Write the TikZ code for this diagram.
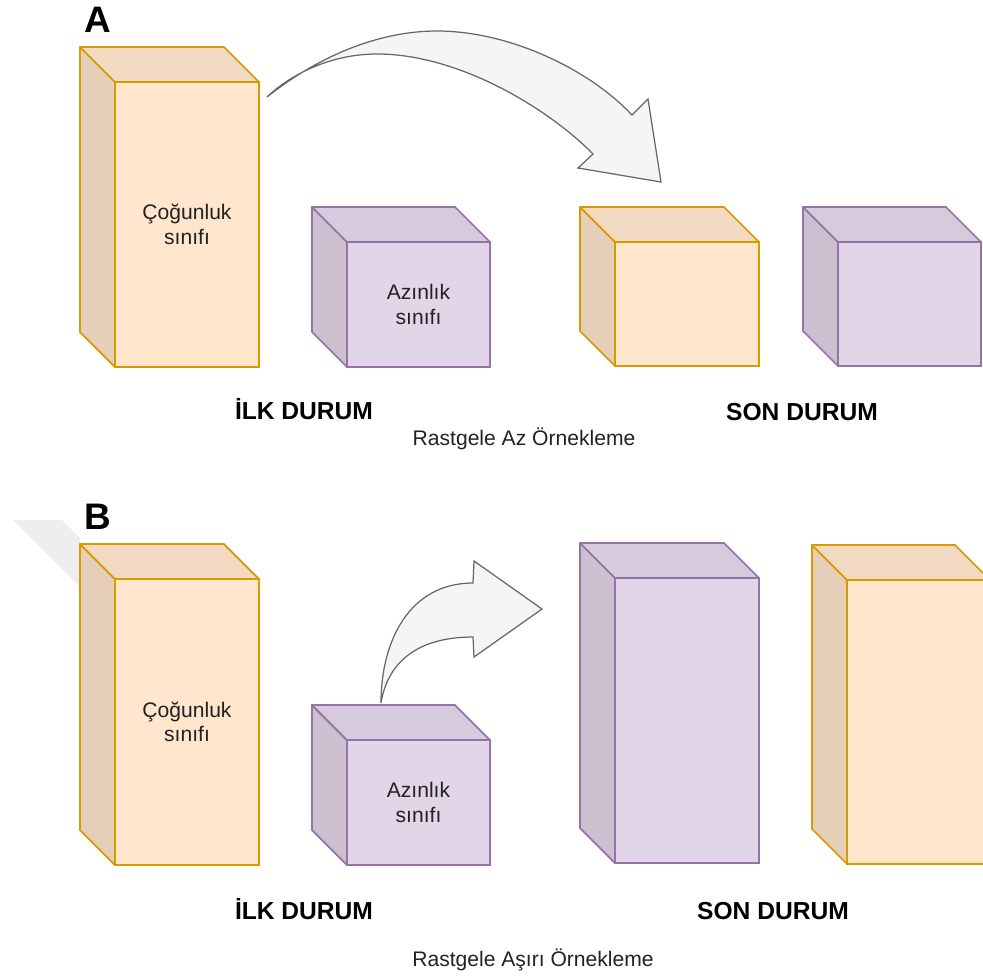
\documentclass[tikz,border=0pt]{standalone}
\usepackage{fontspec}
\setmainfont{Liberation Sans}
\usetikzlibrary{calc}

\definecolor{orangefill}{HTML}{FFE6CC}
\definecolor{orangetop}{HTML}{F2DAC2}
\definecolor{orangeside}{HTML}{E6CFB8}
\definecolor{orangeline}{HTML}{D79B00}
\definecolor{purplefill}{HTML}{E1D5E7}
\definecolor{purpletop}{HTML}{D6CADC}
\definecolor{purpleside}{HTML}{CBBFD0}
\definecolor{purpleline}{HTML}{9673A6}
\definecolor{arrowfill}{HTML}{F5F5F5}
\definecolor{arrowline}{HTML}{666666}
\definecolor{textgray}{HTML}{222222}

\tikzset{
  face/.style={fill=#1fill, draw=#1line, line width=1pt, outer sep=0pt,
    inner sep=0pt, align=center, text=textgray,
    font=\fontsize{12pt}{14pt}\selectfont},
  backface/.style={draw=#1line, line width=1pt, line join=round},
  blockarrow/.style={fill=arrowfill, draw=arrowline, line width=0.7pt, line join=miter},
  heading/.style={anchor=base, font=\fontsize{14pt}{16pt}\selectfont\bfseries},
  caption/.style={anchor=base, text=textgray, font=\fontsize{12pt}{14pt}\selectfont},
  panel/.style={anchor=base, font=\fontsize{21pt}{24pt}\selectfont\bfseries},
}

% cube: name, front face x0,y0,x1,y1 (pixel units), colour family, text
\newcommand{\drawcube}[7]{%
  \node[face=#6, anchor=north west,
        minimum width={(#4-#2)*0.02cm}, minimum height={(#5-#3)*0.02cm}]
        (#1) at (#2,#3) {#7};
  \filldraw[backface=#6, fill=#6side]
    (#1.north west) -- (#1.south west) -- ++(-35,-35)
    -- ($(#1.north west)+(-35,-35)$) -- cycle;
  \filldraw[backface=#6, fill=#6top]
    (#1.north west) -- (#1.north east) -- ++(-35,-35)
    -- ($(#1.north west)+(-35,-35)$) -- cycle;
}

\begin{document}
\begin{tikzpicture}[x=0.02cm, y=-0.02cm]
\useasboundingbox (0,0) rectangle (983,978);
\clip (0,0) rectangle (983,978);

% ---------------- Panel A: random undersampling ----------------
\node[panel] (labA) at (98,32) {A};

\drawcube{majA}{115}{82}{259}{367}{orange}{Çoğunluk\\sınıfı}
\drawcube{minA}{347}{242}{490}{367}{purple}{Azınlık\\sınıfı}
\drawcube{majAout}{615}{242}{759}{366}{orange}{}
\drawcube{minAout}{838}{242}{981}{366}{purple}{}

% curved block arrow from the initial to the final state
\coordinate (arrAtail) at (267,97);
\coordinate (arrAtip) at (661,182);
\draw[blockarrow] (arrAtail)
  .. controls (320,55) and (380,31) .. (437,31)
  .. controls (510,31) and (590,70) .. (632,115)
  -- (648,99) -- (arrAtip) -- (578,168) -- (593,154)
  .. controls (550,110) and (460,54) .. (377,54)
  .. controls (330,54) and (290,75) .. (arrAtail) -- cycle;

\node[heading] (ilkA) at (304,419) {İLK DURUM};
\node[heading] (sonA) at (802,420) {SON DURUM};
\node[caption] (capA) at (524,445) {Rastgele Az Örnekleme};

% ---------------- Panel B: random oversampling ----------------
\fill[gray!13] (13,520) -- (62,520) -- (80,538) -- (80,587) -- cycle;
\node[panel] (labB) at (98,529) {B};

\drawcube{majB}{115}{579}{259}{865}{orange}{Çoğunluk\\sınıfı}
\drawcube{minB}{347}{740}{490}{865}{purple}{Azınlık\\sınıfı}
\drawcube{minBout}{615}{578}{759}{863}{purple}{}
\drawcube{majBout}{847}{580}{990}{864}{orange}{}

% block arrow rising from the minority cube
\coordinate (arrBtail) at (381,703);
\coordinate (arrBtip) at (542,609);
\draw[blockarrow] (arrBtail)
  .. controls (381,640) and (410,583) .. (473,583)
  -- (474,561) -- (arrBtip) -- (474,657) -- (473,637)
  .. controls (420,637) and (388,660) .. (arrBtail) -- cycle;

\node[heading] (ilkB) at (304,919) {İLK DURUM};
\node[heading] (sonB) at (773,919) {SON DURUM};
\node[caption] (capB) at (533,966) {Rastgele Aşırı Örnekleme};
\end{tikzpicture}
\end{document}
